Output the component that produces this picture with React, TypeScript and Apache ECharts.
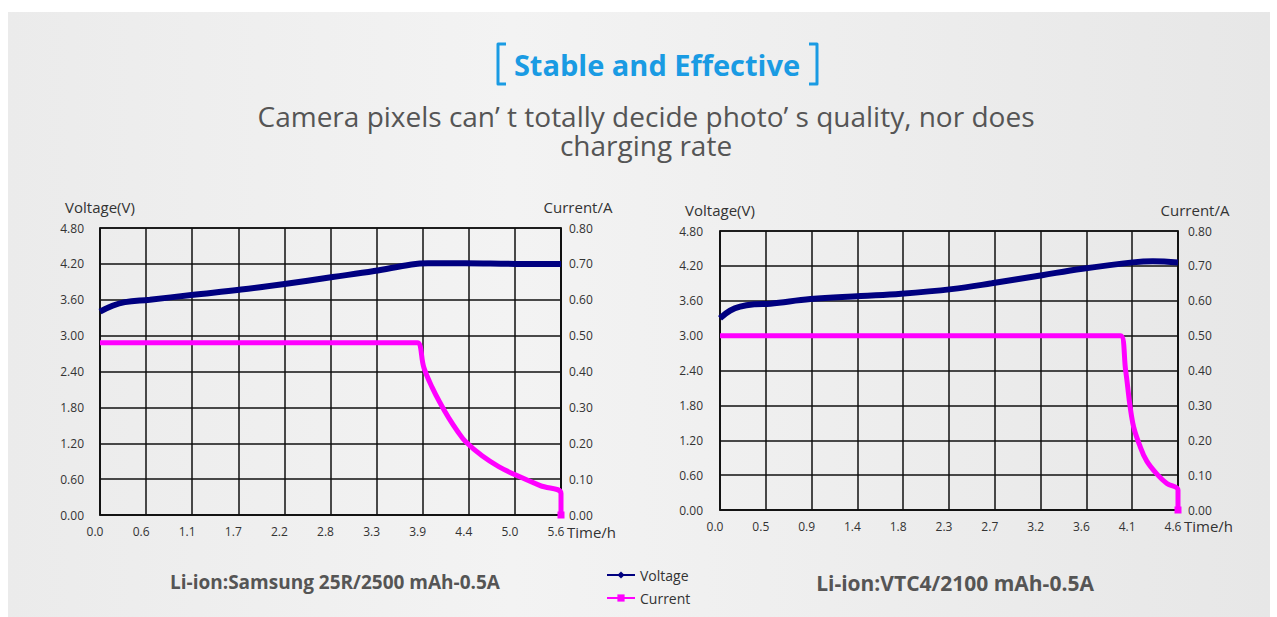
import React, { useEffect, useRef } from "react";
import * as echarts from "echarts";

// ---- data ----
const leftTimeLabels = ["0.0", "0.6", "1.1", "1.7", "2.2", "2.8", "3.3", "3.9", "4.4", "5.0", "5.6"];
const rightTimeLabels = ["0.0", "0.5", "0.9", "1.4", "1.8", "2.3", "2.7", "3.2", "3.6", "4.1", "4.6"];
const leftTimeMax = 5.55;
const rightTimeMax = 4.55;

const leftVoltage: [number, number][] = [
  [0, 3.4], [0.15, 3.5], [0.3, 3.56], [0.6, 3.6], [1.1, 3.68], [1.7, 3.77], [2.2, 3.86],
  [2.8, 3.98], [3.3, 4.08], [3.75, 4.19], [3.95, 4.21], [4.4, 4.21], [5.0, 4.2], [5.55, 4.2],
];
const leftCurrent: [number, number][] = [
  [0, 0.48], [3.7, 0.48], [3.82, 0.48], [3.9, 0.41], [4.0, 0.355], [4.1, 0.31], [4.2, 0.27],
  [4.3, 0.235], [4.4, 0.205], [4.6, 0.165], [4.8, 0.135], [5.0, 0.112], [5.3, 0.082], [5.55, 0.06], [5.55, 0],
];
const rightVoltage: [number, number][] = [
  [0, 3.3], [0.1, 3.43], [0.2, 3.5], [0.35, 3.54], [0.5, 3.55], [0.9, 3.63], [1.4, 3.68],
  [1.8, 3.72], [2.3, 3.8], [2.7, 3.9], [3.2, 4.04], [3.6, 4.15], [4.1, 4.26], [4.3, 4.28], [4.55, 4.26],
];
const rightCurrent: [number, number][] = [
  [0, 0.5], [3.9, 0.5], [3.98, 0.5], [4.03, 0.4], [4.1, 0.25], [4.17, 0.185], [4.24, 0.14],
  [4.35, 0.1], [4.44, 0.076], [4.55, 0.057], [4.55, 0],
];

const titleText = "Stable and Effective";
const subtitleText = "Camera pixels can’ t totally decide photo’ s quality, nor does\ncharging rate";
const leftCaption = "Li-ion:Samsung 25R/2500 mAh-0.5A";
const rightCaption = "Li-ion:VTC4/2100 mAh-0.5A";

const FONT = "'Open Sans', 'Noto Sans', sans-serif";
const NAVY = "#000080";
const MAGENTA = "#ff00ff";
const BLUE = "#1a9be3";

function timeAxis(gridIndex: number, max: number, labels: string[], nameLineHeight: number) {
  const interval = max / 10;
  return {
    type: "value",
    gridIndex,
    min: 0,
    max,
    interval,
    name: "Time/h",
    nameLocation: "end",
    nameGap: 6,
    nameMoveOverlap: false,
    nameTextStyle: { fontFamily: FONT, fontSize: 15, color: "#333", verticalAlign: "top", align: "left", lineHeight: nameLineHeight },
    axisLine: { show: true, lineStyle: { color: "#111", width: 1.5 } },
    axisTick: { show: false },
    axisLabel: {
      fontFamily: FONT,
      fontSize: 12,
      color: "#333",
      margin: 10,
      padding: [0, 10, 0, 0],
      showMaxLabel: true,
      showMinLabel: true,
      formatter: (v: number) => labels[Math.round(v / interval)] ?? "",
    },
    splitLine: { show: true, lineStyle: { color: "#111", width: 1.5 } },
  };
}

function voltageAxis(gridIndex: number, margin: number) {
  return {
    type: "value",
    gridIndex,
    position: "left",
    min: 0,
    max: 4.8,
    interval: 0.6,
    name: "Voltage(V)",
    nameLocation: "end",
    nameGap: 14,
    nameTextStyle: { fontFamily: FONT, fontSize: 15, color: "#333" },
    axisLine: { show: true, lineStyle: { color: "#111", width: 1.5 } },
    axisTick: { show: false },
    axisLabel: { fontFamily: FONT, fontSize: 12, color: "#333", margin, formatter: (v: number) => v.toFixed(2) },
    splitLine: { show: true, lineStyle: { color: "#111", width: 1.5 } },
  };
}

function currentAxis(gridIndex: number, margin: number, shift: number) {
  return {
    type: "value",
    gridIndex,
    position: "right",
    min: 0,
    max: 0.8,
    interval: 0.1,
    name: "Current/A",
    nameLocation: "end",
    nameGap: 14,
    nameTextStyle: { fontFamily: FONT, fontSize: 15, color: "#333", padding: [0, 0, 0, shift * 2] },
    axisLine: { show: true, lineStyle: { color: "#111", width: 1.5 } },
    axisTick: { show: false },
    axisLabel: { fontFamily: FONT, fontSize: 12, color: "#333", margin, formatter: (v: number) => v.toFixed(2) },
    splitLine: { show: false },
  };
}

function currentSymbolSize(data: [number, number][]) {
  return (_v: any, p: any) => (p.dataIndex === data.length - 1 ? 7 : 0);
}

export default function App() {
  const ref = useRef<HTMLDivElement>(null);
  useEffect(() => {
    if (!ref.current) return;
    const chart = echarts.init(ref.current, undefined, { renderer: "svg" });
    chart.setOption({
      animation: false,
      backgroundColor: "#ffffff",
      graphic: {
        elements: [
          {
            type: "rect",
            z: -100,
            shape: { x: 8, y: 12, width: 1262, height: 605 },
            style: {
              fill: new echarts.graphic.LinearGradient(0, 0, 1, 0, [
                { offset: 0, color: "#ebebeb" },
                { offset: 0.4, color: "#f3f3f3" },
                { offset: 1, color: "#e7e7e7" },
              ]),
            },
          },
          {
            type: "polyline",
            shape: { points: [[506, 44], [498, 44], [498, 84], [506, 84]] },
            style: { stroke: BLUE, lineWidth: 3, fill: "none", lineJoin: "round" },
          },
          {
            type: "polyline",
            shape: { points: [[809, 44], [817, 44], [817, 84], [809, 84]] },
            style: { stroke: BLUE, lineWidth: 3, fill: "none", lineJoin: "round" },
          },
          {
            type: "text",
            x: 657,
            y: 64,
            style: { text: titleText, fontFamily: FONT, fontSize: 29, fontWeight: "bold", fill: BLUE, align: "center", verticalAlign: "middle" },
          },
          {
            type: "text",
            x: 646,
            y: 130.5,
            style: { text: subtitleText, fontFamily: FONT, fontSize: 28, lineHeight: 29, fill: "#555", align: "center", verticalAlign: "middle" },
          },
          {
            type: "text",
            x: 335,
            y: 582,
            style: { text: leftCaption, fontFamily: FONT, fontSize: 19, fontWeight: "bold", fill: "#555", align: "center", verticalAlign: "middle" },
          },
          {
            type: "text",
            x: 955,
            y: 583,
            style: { text: rightCaption, fontFamily: FONT, fontSize: 21, fontWeight: "bold", fill: "#555", align: "center", verticalAlign: "middle" },
          },
        ],
      },
      legend: {
        data: ["Voltage", "Current"],
        orient: "vertical",
        left: 601,
        top: 563,
        itemWidth: 28,
        itemHeight: 9,
        itemGap: 9,
        textStyle: { fontFamily: FONT, fontSize: 14, color: "#333" },
        lineStyle: { width: 2 },
      },
      grid: [
        { left: 100, top: 228, width: 461, height: 287, show: true, borderColor: "#111", borderWidth: 1.5, backgroundColor: "transparent" },
        { left: 720, top: 231, width: 458, height: 279, show: true, borderColor: "#111", borderWidth: 1.5, backgroundColor: "transparent" },
      ],
      xAxis: [timeAxis(0, leftTimeMax, leftTimeLabels, 34), timeAxis(1, rightTimeMax, rightTimeLabels, 32)],
      yAxis: [voltageAxis(0, 16), currentAxis(0, 8, 17), voltageAxis(1, 17), currentAxis(1, 10, 17)],
      series: [
        {
          name: "Voltage", type: "line", xAxisIndex: 0, yAxisIndex: 0, data: leftVoltage,
          symbol: "diamond", showSymbol: false, smooth: 0.4, lineStyle: { color: NAVY, width: 6 }, itemStyle: { color: NAVY }, z: 3,
        },
        {
          name: "Current", type: "line", xAxisIndex: 0, yAxisIndex: 1, data: leftCurrent,
          symbol: "rect", symbolSize: currentSymbolSize(leftCurrent), smooth: 0.4,
          lineStyle: { color: MAGENTA, width: 5 }, itemStyle: { color: MAGENTA }, z: 3,
        },
        {
          name: "Voltage", type: "line", xAxisIndex: 1, yAxisIndex: 2, data: rightVoltage,
          symbol: "diamond", showSymbol: false, smooth: 0.4, lineStyle: { color: NAVY, width: 6 }, itemStyle: { color: NAVY }, z: 3,
        },
        {
          name: "Current", type: "line", xAxisIndex: 1, yAxisIndex: 3, data: rightCurrent,
          symbol: "rect", symbolSize: currentSymbolSize(rightCurrent), smooth: 0.4,
          lineStyle: { color: MAGENTA, width: 5 }, itemStyle: { color: MAGENTA }, z: 3,
        },
      ],
    });
    return () => chart.dispose();
  }, []);
  return <div ref={ref} style={{ position: "fixed", left: 0, top: 0, width: 1277, height: 617 }} />;
}
